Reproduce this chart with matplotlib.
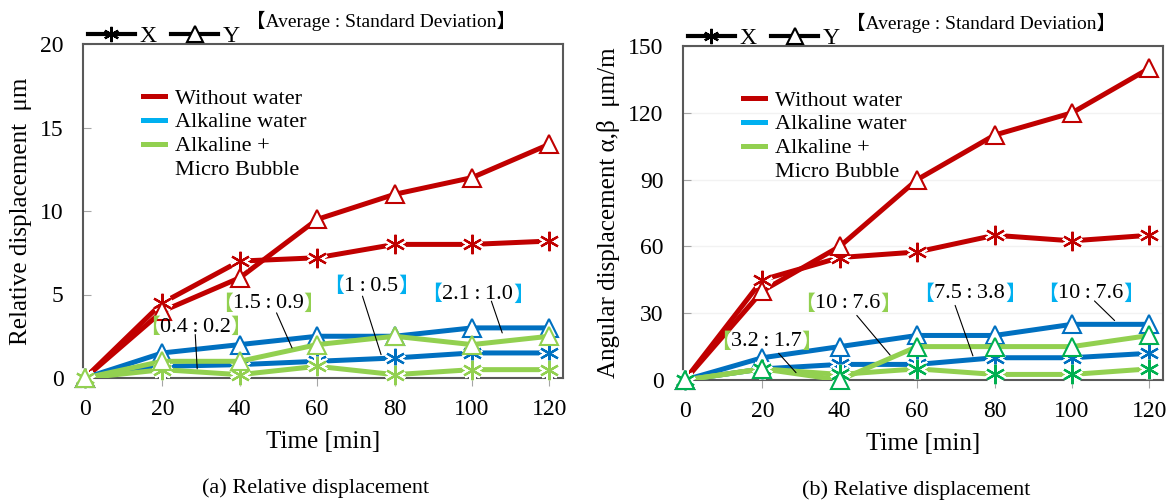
import matplotlib
matplotlib.use("Agg")
import matplotlib.pyplot as plt
from matplotlib.lines import Line2D

plt.rcParams['font.family'] = ['Liberation Serif', 'Noto Sans CJK JP', 'DejaVu Sans']
plt.rcParams['font.size'] = 16

# Shared x values (time in minutes)
time_min = [0, 20, 40, 60, 80, 100, 120]

# (a) Relative displacement, um
rel_without_x = [0, 4.5, 7.0, 7.2, 8.0, 8.0, 8.2]
rel_without_y = [0, 4.0, 6.0, 9.5, 11.0, 12.0, 14.0]
rel_alk_x = [0, 0.7, 0.8, 1.0, 1.2, 1.5, 1.5]
rel_alk_y = [0, 1.5, 2.0, 2.5, 2.5, 3.0, 3.0]
rel_mb_x = [0, 0.5, 0.2, 0.7, 0.2, 0.5, 0.5]
rel_mb_y = [0, 1.0, 1.0, 2.0, 2.5, 2.0, 2.5]

# (b) Angular displacement, um/m
ang_without_x = [0, 45, 55, 57.5, 65, 62.5, 65]
ang_without_y = [0, 40, 60, 90, 110, 120, 140]
ang_alk_x = [0, 5, 7, 7, 10, 10, 12]
ang_alk_y = [0, 10, 15, 20, 20, 25, 25]
ang_mb_x = [0, 5, 2.5, 5, 2.5, 2.5, 5]
ang_mb_y = [0, 5, 0, 15, 15, 15, 20]

series_names = ["Without water", "Alkaline water", "Alkaline +", "Micro Bubble"]

# [Average : Standard Deviation] labels: text, series, text pos, leader start, leader end
rel_notes = [
    ("0.4\u2009:\u20090.2", "mb", (28.5, 3.05), (28.5, 2.6), (29.0, 0.55)),
    ("1.5\u2009:\u20090.9", "mb", (47.3, 4.45), (49.5, 3.9), (53.5, 1.8)),
    ("1\u2009:\u20090.5", "alk", (74.0, 5.5), (71.7, 4.9), (76.5, 1.4)),
    ("2.1\u2009:\u20091.0", "alk", (101.5, 5.0), (105.0, 4.6), (107.8, 2.7)),
]
ang_notes = [
    ("3.2\u2009:\u20091.7", "mb", (21.0, 17.2), (24.2, 12.0), (28.7, 3.3)),
    ("10\u2009:\u20097.6", "mb", (42.0, 34.2), (44.4, 29.0), (53.0, 11.2)),
    ("7.5\u2009:\u20093.8", "alk", (73.6, 38.7), (69.8, 33.5), (74.4, 10.8)),
    ("10\u2009:\u20097.6", "alk", (104.8, 38.7), (105.8, 35.5), (111.0, 26.7)),
]

RED = "#C00000"
BLUE = "#0070C0"
GREEN = "#92D050"
bracket_col = {"alk": "#00B0F0", "mb": "#92D050"}
STAR = (6, 2, 0)


def draw_series(ax, xs, ys, color, marker, edge, z):
    ax.plot(xs, ys, color=color, lw=3.6, zorder=z, solid_capstyle='butt')
    if marker == 'tri':
        ax.plot(xs, ys, ls='none', marker='^', ms=13, mfc='white', mec=edge, mew=1.5,
                zorder=z + 0.5, clip_on=False)
    else:
        ax.plot(xs, ys, ls='none', marker=STAR, ms=14, mec='white', mew=5,
                zorder=z + 0.3, clip_on=False)
        ax.plot(xs, ys, ls='none', marker=STAR, ms=14, mec=edge, mew=1.6,
                zorder=z + 0.5, clip_on=False)


def add_note(ax, text, key, pos, start, end):
    t = ax.text(pos[0], pos[1], text, ha='center', va='center', fontsize=16, zorder=10)
    ax.annotate('【', xy=(0, 0.5), xycoords=t, ha='right', va='center',
                color=bracket_col[key], fontsize=15, family=['Noto Sans CJK JP'], zorder=10)
    ax.annotate('】', xy=(1, 0.5), xycoords=t, ha='left', va='center',
                color=bracket_col[key], fontsize=15, family=['Noto Sans CJK JP'], zorder=10)
    ax.annotate('', xy=end, xytext=start,
                arrowprops=dict(arrowstyle='-', lw=0.8, color='black',
                                shrinkA=0, shrinkB=0), zorder=10)


def style_axes(ax, yticks, ylabel, caption, grid):
    ax.set_xlim(-0.5, 123.5)
    ax.set_ylim(yticks[0], yticks[-1])
    ax.set_xticks(time_min)
    ax.set_yticks(yticks)
    for s in ax.spines.values():
        s.set_color('#595959')
        s.set_linewidth(1.5)
    ax.tick_params(axis='x', direction='out', length=6, color='#a6a6a6', labelsize=17, pad=9)
    ax.tick_params(axis='y', direction='in', length=6, color='#a6a6a6', labelsize=17, pad=14)
    if grid:
        ax.grid(axis='y', color='#f2f2f2', lw=1)
        ax.set_axisbelow(True)
    ax.set_xlabel("Time [min]", fontsize=18, labelpad=8)
    ax.set_ylabel(ylabel, fontsize=18, labelpad=6)
    ax.text(0.485, -0.33, caption, transform=ax.transAxes, ha='center', va='center', fontsize=16)

    # series legend (colour only); last row is the second line of the third label
    handles = [Line2D([], [], color=c, lw=3.6) for c in (RED, "#00B0F0", GREEN)]
    handles.append(Line2D([], [], color='none', lw=0))
    leg = ax.legend(handles, series_names, loc='upper left', bbox_to_anchor=(0.107, 0.895),
                    frameon=False, fontsize=16, handlelength=1.0, handletextpad=0.45,
                    labelspacing=0.15, borderaxespad=0)
    ax.add_artist(leg)

    # marker legend above the plot
    mk = [Line2D([], [], color='black', lw=3, marker=STAR, ms=11, mew=1.6),
          Line2D([], [], color='black', lw=3, marker='^', ms=11, mfc='white', mec='black', mew=1.5)]
    ax.legend(mk, ["X", "Y"], loc='lower left', bbox_to_anchor=(0.01, 0.99), ncol=2,
              frameon=False, fontsize=17, handlelength=2.0, handletextpad=0.2,
              columnspacing=0.6, borderaxespad=0, borderpad=0)
    ax.text(0.62, 1.07, "【Average : Standard Deviation】", transform=ax.transAxes,
            ha='center', va='center', fontsize=14)


fig = plt.figure(figsize=(11.74, 5.01), dpi=100)
ax1 = fig.add_axes([83 / 1174, 123 / 501, 480 / 1174, 334 / 501])
ax2 = fig.add_axes([683 / 1174, 121 / 501, 480 / 1174, 334 / 501])

# panel (a)
draw_series(ax1, time_min, rel_without_x, RED, 'star', RED, 3)
draw_series(ax1, time_min, rel_without_y, RED, 'tri', RED, 3)
draw_series(ax1, time_min, rel_alk_x, BLUE, 'star', BLUE, 4)
draw_series(ax1, time_min, rel_alk_y, BLUE, 'tri', BLUE, 4)
draw_series(ax1, time_min, rel_mb_x, GREEN, 'star', GREEN, 5)
draw_series(ax1, time_min, rel_mb_y, GREEN, 'tri', GREEN, 5)
for note in rel_notes:
    add_note(ax1, *note)
style_axes(ax1, [0, 5, 10, 15, 20], "Relative displacement  μm",
           "(a) Relative displacement", False)

# panel (b)
draw_series(ax2, time_min, ang_without_x, RED, 'star', RED, 3)
draw_series(ax2, time_min, ang_without_y, RED, 'tri', RED, 3)
draw_series(ax2, time_min, ang_alk_x, BLUE, 'star', BLUE, 4)
draw_series(ax2, time_min, ang_alk_y, BLUE, 'tri', BLUE, 4)
draw_series(ax2, time_min, ang_mb_x, GREEN, 'star', "#00B050", 5)
draw_series(ax2, time_min, ang_mb_y, GREEN, 'tri', "#00B050", 5)
for note in ang_notes:
    add_note(ax2, *note)
style_axes(ax2, [0, 30, 60, 90, 120, 150], "Angular displacement α,β  μm/m",
           "(b) Relative displacement", True)

fig.savefig("out.png", dpi=100)
